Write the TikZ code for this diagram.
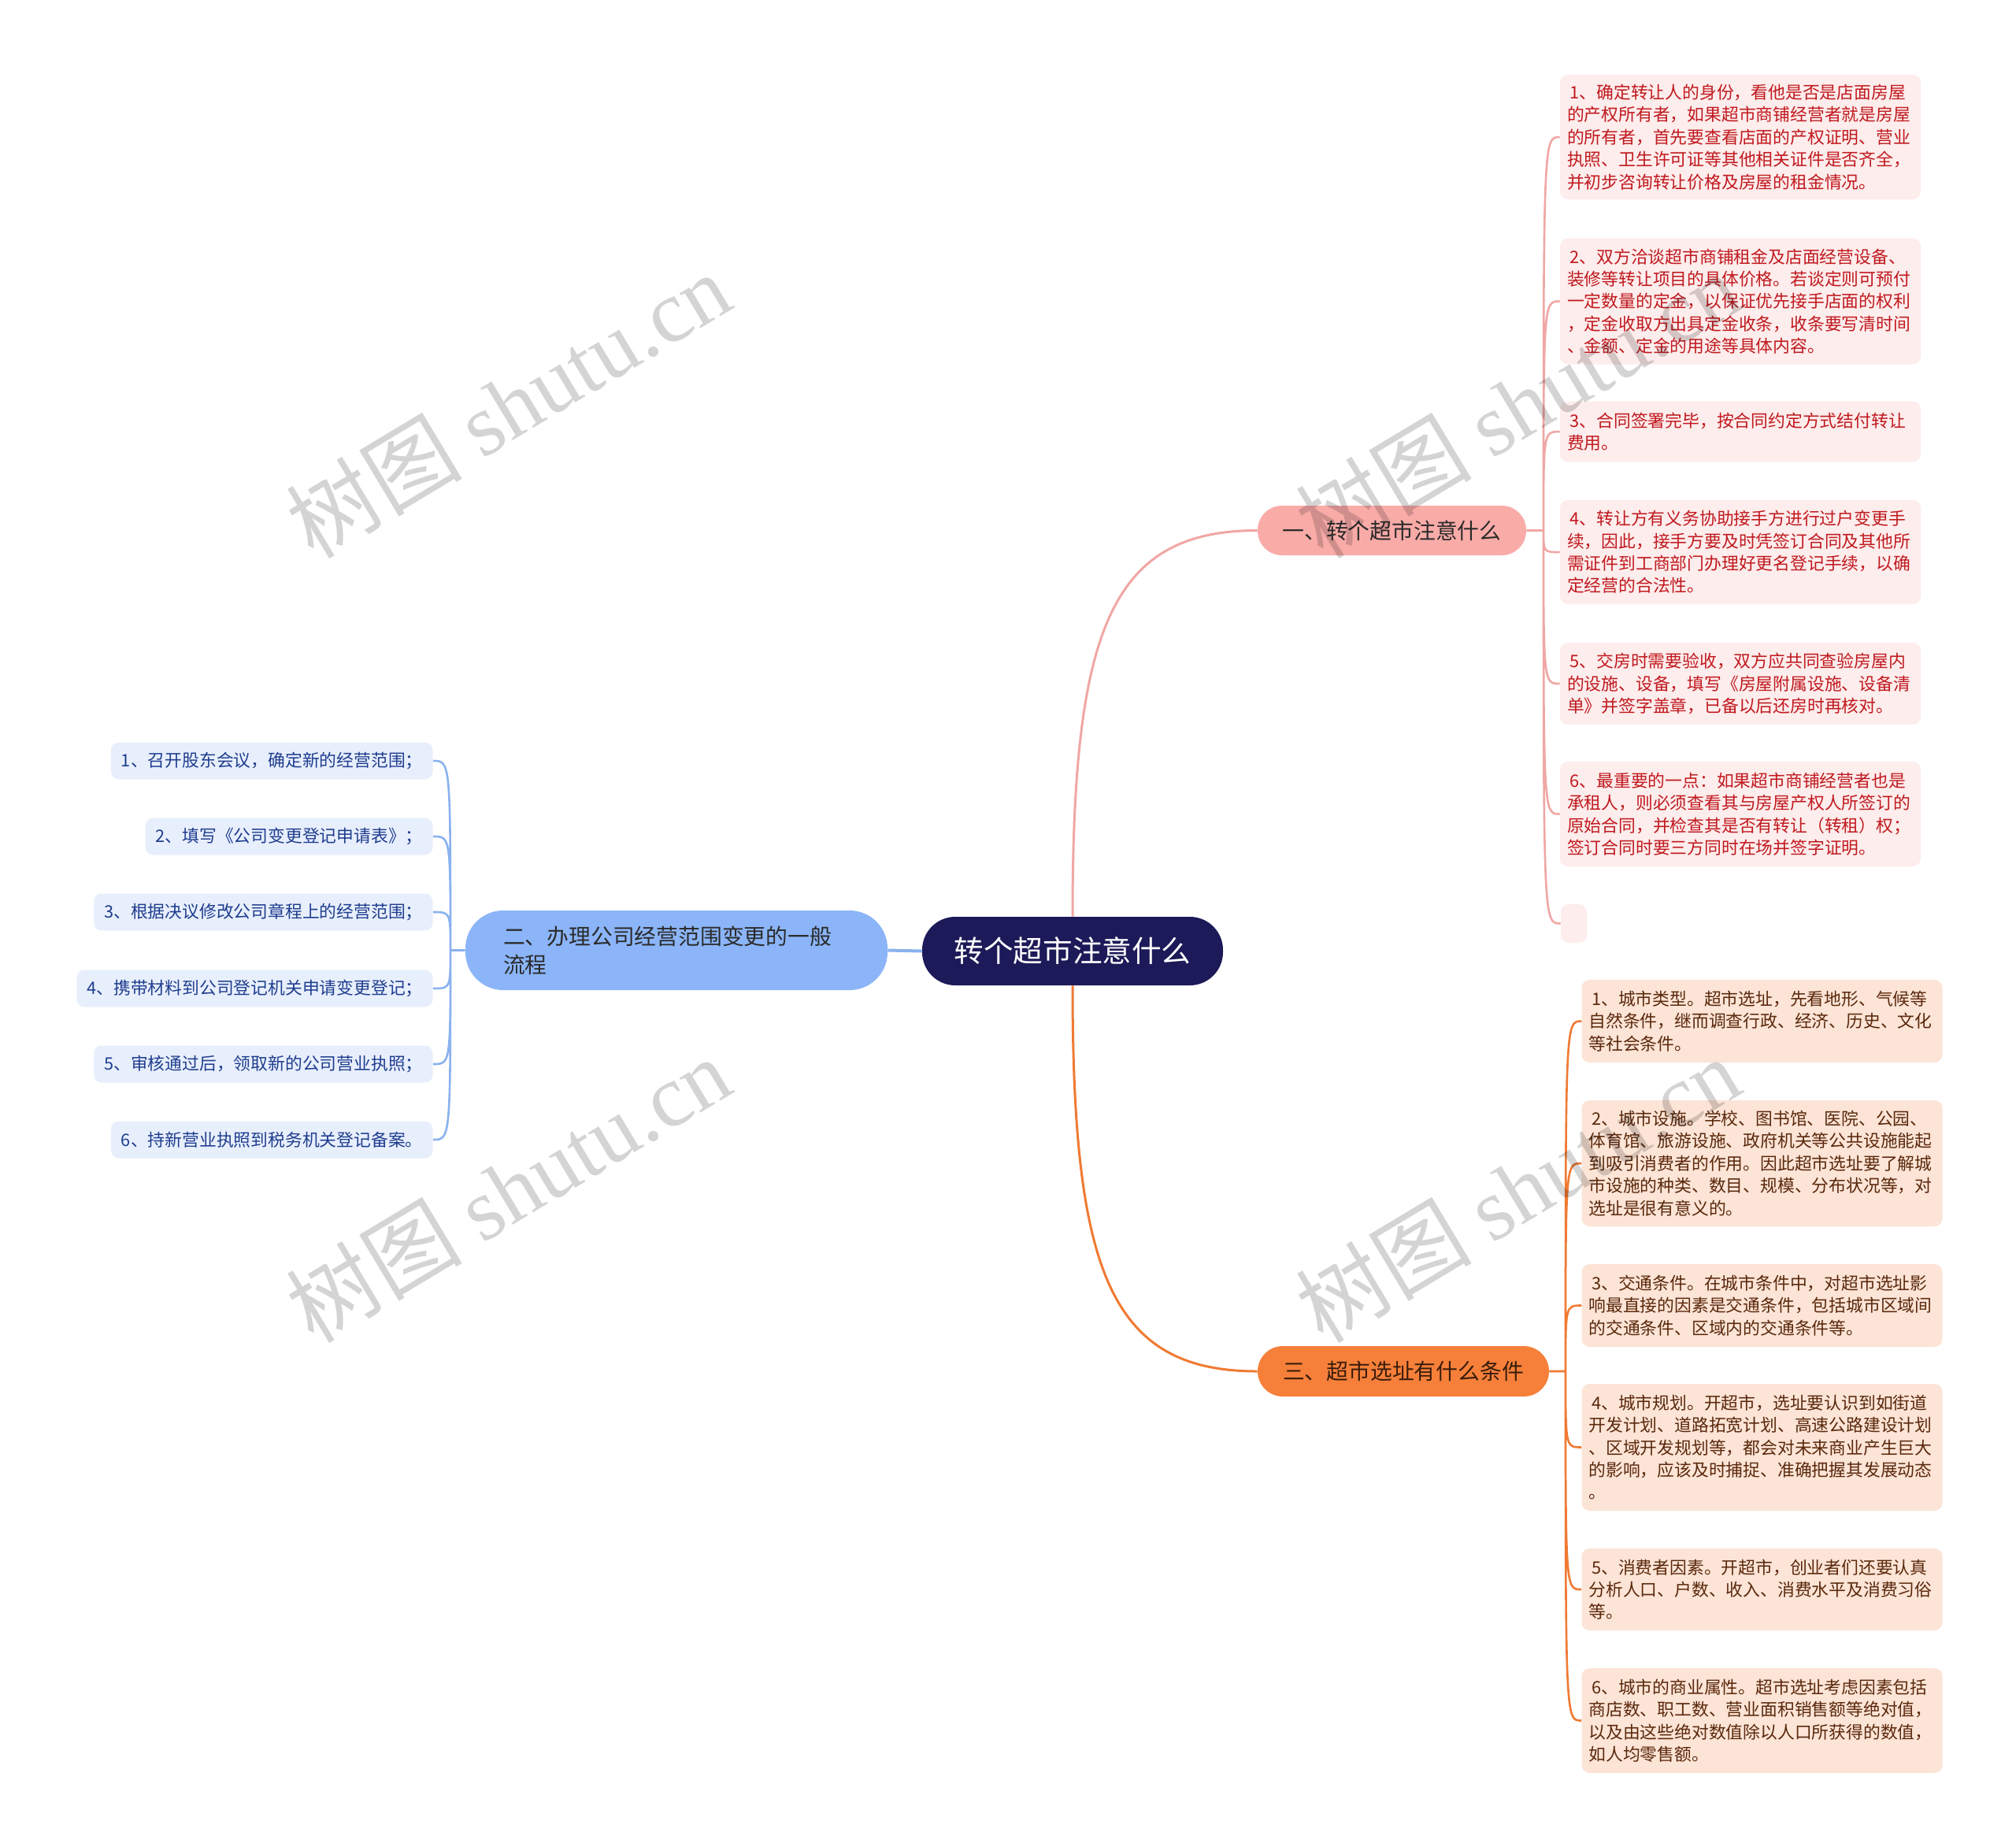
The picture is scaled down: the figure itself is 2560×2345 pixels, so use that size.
\documentclass[tikz,border=0pt]{standalone}
\usepackage{fontspec}
\setmainfont{Noto Sans CJK SC}
\newfontfamily\wmlatin{Liberation Serif}

\definecolor{crootfill}{HTML}{1C1A58}
\definecolor{conefill}{HTML}{F9ABA8}
\definecolor{ctwofill}{HTML}{8BB5F8}
\definecolor{cthreefill}{HTML}{F6803A}
\definecolor{ctopictext}{HTML}{2A2A2A}
\definecolor{cthreetext}{HTML}{3A1C0A}
\definecolor{cpinkleaf}{HTML}{FDEDEC}
\definecolor{cblueleaf}{HTML}{E8EFFC}
\definecolor{corangeleaf}{HTML}{FCE4D6}
\definecolor{cpinktext}{HTML}{C0191F}
\definecolor{cbluetext}{HTML}{1F3D8F}
\definecolor{corangetext}{HTML}{5A280C}
\definecolor{cpinkline}{HTML}{F0A7A4}
\definecolor{cblueline}{HTML}{8AB2EE}
\definecolor{corangeline}{HTML}{F07A33}

\begin{document}
\begin{tikzpicture}[x=0.5pt, y=-0.5pt, every node/.style={inner sep=0pt},
	topic/.style={text=ctopictext, font=\fontsize{13.9}{18}\selectfont},
	leaf/.style={rounded corners=5pt, align=left, text width=220pt, inner xsep=4.5pt, font=\fontsize{10.9}{14.2}\selectfont},
	redleaf/.style={leaf, fill=cpinkleaf, text=cpinktext},
	brownleaf/.style={leaf, fill=corangeleaf, text=corangetext},
	blueleaf/.style={rounded corners=5pt, anchor=east, inner xsep=6.5pt, minimum height=23.5pt, fill=cblueleaf, text=cbluetext, font=\fontsize{10.9}{14.2}\selectfont},
	pinklink/.style={draw=cpinkline, line width=1.3pt},
	bluelink/.style={draw=cblueline, line width=1.3pt},
	orangelink/.style={draw=corangeline, line width=1.3pt},
	wmtext/.style={rotate=31, text=black, text opacity=0.17, font=\fontsize{56}{60}\selectfont}]
	\useasboundingbox (0,0) rectangle (2560,2345);
	\fill[white] (0,0) rectangle (2560,2345);

	\node[fill=crootfill, text=white, rounded corners=21pt, minimum width=191pt, minimum height=43.5pt, font=\fontsize{18.8}{22}\selectfont] (root) at (1362,1207.5) {转个超市注意什么};
	\node[topic, fill=conefill, rounded corners=15.5pt, minimum width=170.5pt, minimum height=31.5pt] (one) at (1767.5,673.5) {一、转个超市注意什么};
	\node[topic, fill=ctwofill, rounded corners=24pt, minimum width=268pt, minimum height=50.5pt, text width=220pt, align=left] (two) at (859,1206.5) {二、办理公司经营范围变更的一般\\流程};
	\node[topic, fill=cthreefill, text=cthreetext, rounded corners=16pt, minimum width=185pt, minimum height=32pt] (three) at (1782,1741) {三、超市选址有什么条件};

	\coordinate (ja) at (1960,673.5);
	\coordinate (jb) at (572,1206.5);
	\coordinate (jc) at (1988,1741);

	\node[redleaf, minimum height=79pt] (a1) at (2210,174) {\,1、确定转让人的身份，看他是否是店面房屋\\的产权所有者，如果超市商铺经营者就是房屋\\的所有者，首先要查看店面的产权证明、营业\\执照、卫生许可证等其他相关证件是否齐全，\\并初步咨询转让价格及房屋的租金情况。};
	\node[redleaf, minimum height=80pt] (a2) at (2210,382.5) {\,2、双方洽谈超市商铺租金及店面经营设备、\\装修等转让项目的具体价格。若谈定则可预付\\一定数量的定金，以保证优先接手店面的权利\\，定金收取方出具定金收条，收条要写清时间\\、金额、定金的用途等具体内容。};
	\node[redleaf, minimum height=38.5pt] (a3) at (2210,548) {\,3、合同签署完毕，按合同约定方式结付转让\\费用。};
	\node[redleaf, minimum height=66pt] (a4) at (2210,701) {\,4、转让方有义务协助接手方进行过户变更手\\续，因此，接手方要及时凭签订合同及其他所\\需证件到工商部门办理好更名登记手续，以确\\定经营的合法性。};
	\node[redleaf, minimum height=52pt] (a5) at (2210,868) {\,5、交房时需要验收，双方应共同查验房屋内\\的设施、设备，填写《房屋附属设施、设备清\\单》并签字盖章，已备以后还房时再核对。};
	\node[redleaf, minimum height=66.5pt] (a6) at (2210,1033.5) {\,6、最重要的一点：如果超市商铺经营者也是\\承租人，则必须查看其与房屋产权人所签订的\\原始合同，并检查其是否有转让（转租）权；\\签订合同时要三方同时在场并签字证明。};
	\node[fill=cpinkleaf, rounded corners=5pt, minimum width=16.5pt, minimum height=24.5pt] (a7) at (1998.5,1172.5) {};

	\node[blueleaf] (b1) at (550,966) {1、召开股东会议，确定新的经营范围；};
	\node[blueleaf] (b2) at (550,1062) {2、填写《公司变更登记申请表》；};
	\node[blueleaf] (b3) at (550,1158) {3、根据决议修改公司章程上的经营范围；};
	\node[blueleaf] (b4) at (550,1255) {4、携带材料到公司登记机关申请变更登记；};
	\node[blueleaf] (b5) at (550,1351) {5、审核通过后，领取新的公司营业执照；};
	\node[blueleaf] (b6) at (550,1447) {6、持新营业执照到税务机关登记备案。};

	\node[brownleaf, minimum height=52.5pt] (c1) at (2237.5,1296.5) {\,1、城市类型。超市选址，先看地形、气候等\\自然条件，继而调查行政、经济、历史、文化\\等社会条件。};
	\node[brownleaf, minimum height=80pt] (c2) at (2237.5,1477) {\,2、城市设施。学校、图书馆、医院、公园、\\体育馆、旅游设施、政府机关等公共设施能起\\到吸引消费者的作用。因此超市选址要了解城\\市设施的种类、数目、规模、分布状况等，对\\选址是很有意义的。};
	\node[brownleaf, minimum height=52.5pt] (c3) at (2237.5,1657.5) {\,3、交通条件。在城市条件中，对超市选址影\\响最直接的因素是交通条件，包括城市区域间\\的交通条件、区域内的交通条件等。};
	\node[brownleaf, minimum height=80.5pt] (c4) at (2237.5,1837.5) {\,4、城市规划。开超市，选址要认识到如街道\\开发计划、道路拓宽计划、高速公路建设计划\\、区域开发规划等，都会对未来商业产生巨大\\的影响，应该及时捕捉、准确把握其发展动态\\。};
	\node[brownleaf, minimum height=52pt] (c5) at (2237.5,2018) {\,5、消费者因素。开超市，创业者们还要认真\\分析人口、户数、收入、消费水平及消费习俗\\等。};
	\node[brownleaf, minimum height=66.5pt] (c6) at (2237.5,2184.5) {\,6、城市的商业属性。超市选址考虑因素包括\\商店数、职工数、营业面积销售额等绝对值，\\以及由这些绝对数值除以人口所获得的数值，\\如人均零售额。};

	\draw[bluelink, line width=2pt] (root.west) -- (two.east);
	\draw[pinklink, line width=1.5pt] (root.north) .. controls (1362,800) and (1410,673.5) .. (one.west);
	\draw[orangelink, line width=1.5pt] (root.south) .. controls (1362,1615) and (1410,1741) .. (three.west);

	\draw[pinklink] (one.east) -- (ja)
		(ja) .. controls (ja |- a1.west) .. (a1.west)
		(ja) .. controls (ja |- a2.west) .. (a2.west)
		(ja) .. controls (ja |- a3.west) .. (a3.west)
		(ja) .. controls (ja |- a4.west) .. (a4.west)
		(ja) .. controls (ja |- a5.west) .. (a5.west)
		(ja) .. controls (ja |- a6.west) .. (a6.west)
		(ja) .. controls (ja |- a7.west) .. (a7.west);
	\draw[bluelink] (two.west) -- (jb)
		(jb) .. controls (jb |- b1.east) .. (b1.east)
		(jb) .. controls (jb |- b2.east) .. (b2.east)
		(jb) .. controls (jb |- b3.east) .. (b3.east)
		(jb) .. controls (jb |- b4.east) .. (b4.east)
		(jb) .. controls (jb |- b5.east) .. (b5.east)
		(jb) .. controls (jb |- b6.east) .. (b6.east);
	\draw[orangelink] (three.east) -- (jc)
		(jc) .. controls (jc |- c1.west) .. (c1.west)
		(jc) .. controls (jc |- c2.west) .. (c2.west)
		(jc) .. controls (jc |- c3.west) .. (c3.west)
		(jc) .. controls (jc |- c4.west) .. (c4.west)
		(jc) .. controls (jc |- c5.west) .. (c5.west)
		(jc) .. controls (jc |- c6.west) .. (c6.west);

	\node[wmtext] (w1) at (645,514) {树图 {\wmlatin shutu.cn}};
	\node[wmtext] (w2) at (1927,514) {树图 {\wmlatin shutu.cn}};
	\node[wmtext] (w3) at (645,1510) {树图 {\wmlatin shutu.cn}};
	\node[wmtext] (w4) at (1927,1510) {树图 {\wmlatin shutu.cn}};
\end{tikzpicture}
\end{document}
